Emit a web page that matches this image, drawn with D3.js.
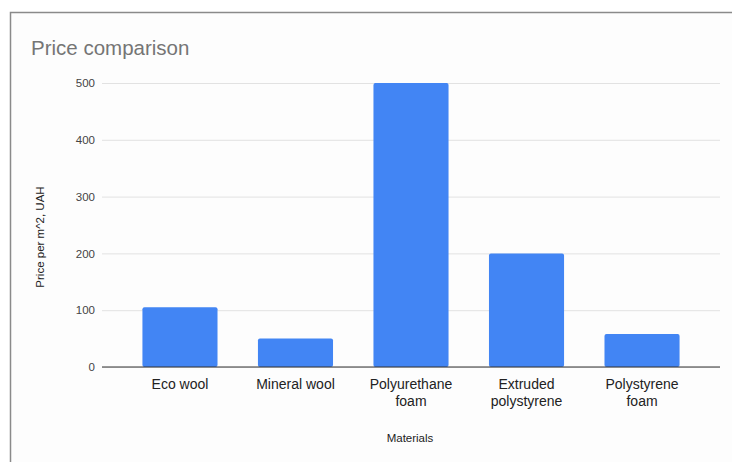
<!DOCTYPE html>
<html>
<head>
<meta charset="utf-8">
<script src="https://cdn.jsdelivr.net/npm/d3@7"></script>
<style>
  body { margin: 0; background: #fff; }
  #chart-area text { font-family: Arial, "Liberation Sans", sans-serif; }
</style>
</head>
<body>
<div id="chart-area"></div>
<script>
// data
var materials = ["Eco wool", "Mineral wool", "Polyurethane foam", "Extruded polystyrene", "Polystyrene foam"];
var labelLines = [["Eco wool"], ["Mineral wool"], ["Polyurethane", "foam"], ["Extruded", "polystyrene"], ["Polystyrene", "foam"]];
var prices = [105, 50, 500, 200, 58];
var yTicks = [0, 100, 200, 300, 400, 500];

var W = 732, H = 462;
var margin = { left: 102, right: 12, top: 83, bottom: 95 };

var svg = d3.select("#chart-area")
    .append("svg")
        .attr("width", W)
        .attr("height", H);

// frame of the screenshot
svg.append("rect")
    .attr("x", 10.5)
    .attr("y", 12.5)
    .attr("width", W)
    .attr("height", H)
    .attr("fill", "#fdfdfd")
    .attr("stroke", "#8a8a8a")
    .attr("stroke-width", 1.5);

var xScale = d3.scaleBand()
    .domain(materials)
    .range([margin.left, W - margin.right])
    .paddingInner(0.35)
    .paddingOuter(0.35);

var yScale = d3.scaleLinear()
    .domain([0, 500])
    .range([H - margin.bottom, margin.top]);

// gridlines + y labels (drawn under the bars)
var yAxisCall = d3.axisLeft(yScale)
    .tickValues(yTicks)
    .tickSize(-(W - margin.right - margin.left))
    .tickPadding(7)
    .tickFormat(function(d){ return d; });

var yAxis = svg.append("g")
    .attr("class", "y-axis")
    .attr("transform", "translate(" + margin.left + ",0)")
    .call(yAxisCall);
yAxis.select(".domain").remove();
yAxis.selectAll("line")
    .attr("stroke", "#e2e2e2");
yAxis.selectAll("text")
    .attr("font-size", "11.5px")
    .attr("fill", "#444");

// bars
svg.selectAll("rect.bar")
    .data(prices)
    .enter()
    .append("rect")
    .attr("class", "bar")
    .attr("x", function(d, i){ return xScale(materials[i]); })
    .attr("y", function(d){ return yScale(d); })
    .attr("width", xScale.bandwidth())
    .attr("height", function(d){ return yScale(0) - yScale(d); })
    .attr("rx", 2)
    .attr("fill", "#4285f4");

// baseline on top
svg.append("line")
    .attr("x1", margin.left)
    .attr("x2", W - margin.right)
    .attr("y1", yScale(0))
    .attr("y2", yScale(0))
    .attr("stroke", "#333")
    .attr("stroke-width", 1.2);

// x labels, wrapped like the original
var xAxis = svg.append("g")
    .attr("class", "x-axis");
materials.forEach(function(m, i) {
    var t = xScale(m) + xScale.bandwidth() / 2;
    var txt = xAxis.append("text")
        .attr("x", t)
        .attr("y", yScale(0) + 22)
        .attr("text-anchor", "middle")
        .attr("font-size", "14px")
        .attr("fill", "#222");
    labelLines[i].forEach(function(line, j) {
        txt.append("tspan")
            .attr("x", t)
            .attr("dy", j === 0 ? 0 : 17)
            .text(line);
    });
});

svg.append("text")
    .attr("x", 31)
    .attr("y", 55)
    .attr("font-size", "20.5px")
    .attr("fill", "#757575")
    .text("Price comparison");

svg.append("text")
    .attr("class", "x-axis label")
    .attr("x", 410)
    .attr("y", 442)
    .attr("font-size", "11.5px")
    .attr("text-anchor", "middle")
    .attr("fill", "#222")
    .text("Materials");

svg.append("text")
    .attr("class", "y-axis label")
    .attr("x", -237)
    .attr("y", 44)
    .attr("font-size", "11.5px")
    .attr("text-anchor", "middle")
    .attr("fill", "#222")
    .attr("transform", "rotate(-90)")
    .text("Price per m^2, UAH");
</script>
</body>
</html>
